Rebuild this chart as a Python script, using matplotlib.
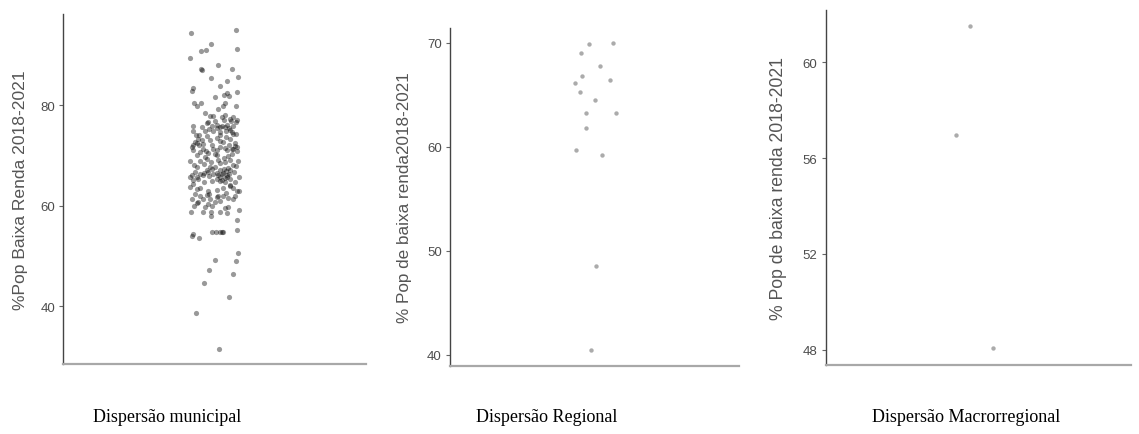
# -*- coding: utf-8 -*-
"""
Dispersao da % de populacao de baixa renda 2018-2021
(municipal, regional, macrorregional)
"""

import matplotlib
matplotlib.use('Agg')
import matplotlib.pyplot as plt
import numpy as np

#%% DATA
### municipal: valor (%) e deslocamento horizontal (jitter)
mun_valor = [
    94.3, 94.95, 89.3, 92.2, 90.8, 91.0, 91.2, 87.2, 87.0, 88.0,
    87.2, 85.4, 85.5, 83.8, 84.8, 82.7, 83.3, 82.6, 81.5, 82.3,
    81.9, 81.8, 80.5, 79.8, 79.9, 80.5, 79.8, 80.5, 79.2, 78.5,
    77.9, 77.8, 78.1, 77.6, 77.1, 75.9, 75.7, 74.8, 74.8, 75.9,
    76.1, 75.6, 75.7, 75.4, 75.9, 76.6, 74.3, 77.1, 76.9, 76.6,
    77.3, 74.1, 74.6, 74.9, 72.6, 71.6, 73.3, 72.3, 73.0, 73.4,
    72.6, 73.3, 72.5, 71.6, 73.8, 74.3, 71.0, 70.6, 70.5, 71.3,
    71.6, 71.0, 70.3, 70.8, 70.0, 69.6, 70.0, 69.4, 72.0, 72.0,
    72.0, 74.0, 71.2, 71.0, 71.3, 68.8, 68.8, 68.3, 68.6, 69.0,
    68.6, 69.0, 68.8, 67.6, 67.0, 67.6, 67.0, 67.4, 66.6, 66.0,
    66.6, 65.3, 66.3, 66.0, 66.5, 65.6, 65.6, 65.6, 65.0, 66.6,
    65.3, 65.0, 65.3, 64.7, 66.3, 64.7, 64.8, 64.7, 64.1, 67.6,
    68.0, 67.3, 66.0, 65.6, 66.3, 63.7, 63.3, 63.5, 63.0, 63.2,
    63.5, 63.5, 62.9, 62.3, 62.3, 62.0, 61.5, 61.3, 61.3, 61.3,
    61.3, 60.5, 60.0, 60.3, 59.9, 60.7, 61.0, 59.7, 59.1, 58.7,
    58.7, 58.8, 58.7, 58.5, 57.9, 57.1, 62.1, 62.0, 62.0, 62.0,
    59.7, 55.1, 54.0, 54.4, 53.5, 54.7, 54.7, 54.7, 54.7, 54.7,
    50.5, 49.0, 49.2, 47.2, 46.3, 44.7, 41.9, 38.7, 31.5,
    66.5, 66.8, 65.9, 66.2, 67.1, 65.4, 66.0, 64.9, 67.3, 66.4,
    75.5, 75.8, 76.0, 75.3, 74.6, 76.4, 75.1, 74.9, 77.6, 76.8,
    72.0, 72.4, 71.8, 72.8, 73.1, 71.4, 70.3, 69.8, 70.9, 73.6,
    68.0, 68.4, 69.2, 67.8, 63.8, 62.6, 64.3, 60.8, 61.8, 59.5,
    65.7, 71.2, 74.0, 63.0,
]
mun_jitter = [
    -0.095, 0.085, -0.097, -0.013, -0.054, -0.034, 0.088, -0.052, -0.050, 0.015,
    0.071, -0.015, 0.092, 0.021, 0.048, -0.091, -0.085, 0.088, 0.003, 0.051,
    0.039, 0.058, -0.080, -0.071, 0.085, 0.042, 0.032, -0.054, 0.015, -0.038,
    -0.005, -0.018, 0.042, 0.072, 0.088, -0.087, -0.051, -0.087, -0.038, -0.009,
    0.009, 0.022, 0.043, 0.056, 0.075, 0.084, 0.084, 0.039, 0.002, -0.024,
    0.062, -0.060, 0.022, -0.005, -0.077, -0.090, -0.064, -0.045, -0.018, 0.011,
    0.035, 0.061, 0.081, 0.091, -0.031, 0.075, -0.084, -0.058, -0.024, -0.005,
    0.022, 0.048, 0.068, 0.091, -0.071, -0.038, 0.009, 0.039, -0.011, -0.062,
    0.059, 0.022, -0.045, 0.009, 0.075, -0.097, -0.058, -0.042, -0.015, 0.015,
    0.042, 0.061, 0.095, -0.071, -0.031, 0.002, 0.022, 0.055, 0.079, -0.090,
    -0.077, -0.064, -0.005, 0.015, 0.032, 0.048, 0.099, -0.097, -0.084, -0.024,
    0.009, 0.029, 0.061, 0.081, -0.058, -0.042, -0.011, 0.042, 0.061, -0.018,
    0.075, 0.037, -0.047, 0.022, 0.057, -0.097, -0.071, -0.058, -0.024, 0.009,
    0.035, 0.075, 0.099, -0.077, -0.020, 0.032, 0.055, 0.072, -0.090, -0.045,
    -0.018, -0.071, -0.080, -0.024, -0.011, 0.002, 0.022, 0.055, 0.099, -0.093,
    -0.045, -0.014, 0.022, 0.048, -0.014, 0.088, -0.031, 0.015, -0.058, 0.081,
    -0.038, 0.088, -0.090, -0.084, -0.063, -0.010, 0.006, 0.022, 0.030, 0.032,
    0.092, 0.085, 0.001, -0.022, 0.073, -0.043, 0.058, -0.075, 0.018,
    0.010, 0.045, -0.020, 0.030, 0.060, 0.040, 0.050, 0.020, -0.010, -0.040,
    0.010, 0.030, 0.050, -0.020, 0.070, -0.030, 0.060, 0.045, 0.030, 0.065,
    -0.085, -0.070, 0.080, 0.020, -0.050, 0.040, 0.000, 0.055, -0.035, 0.045,
    -0.080, 0.020, -0.030, 0.085, 0.060, 0.045, -0.085, -0.065, 0.010, 0.040,
    -0.070, 0.070, -0.075, 0.090,
]

### regional (16 regioes)
reg_valor = [69.87, 70.0, 69.04, 67.79, 66.83, 66.47, 66.12, 65.26,
             64.55, 63.30, 63.27, 61.83, 59.74, 59.23, 48.56, 40.48]
reg_jitter = [-0.023, 0.078, -0.057, 0.024, -0.052, 0.064, -0.081, -0.062,
              0.002, -0.035, 0.089, -0.037, -0.076, 0.030, 0.005, -0.013]

### macrorregional (3 macros)
mac_valor = [61.53, 56.96, 48.06]
mac_jitter = [-0.031, -0.089, 0.058]

titulos = ['Dispersão municipal', 'Dispersão Regional', 'Dispersão Macrorregional']
ylabels = ['%Pop Baixa Renda 2018-2021', '% Pop de baixa renda2018-2021',
           '% Pop de baixa renda 2018-2021']
yticks = [[40, 60, 80], [40, 50, 60, 70], [48, 52, 56, 60]]

#%% LAYOUT
### [left, bottom, width, height] em fracao da figura
rects = [[0.0556, 0.1609, 0.2655, 0.8046],
         [0.3951, 0.1563, 0.2537, 0.7770],
         [0.7249, 0.1593, 0.2678, 0.8154]]
ylims = [(28.5, 98.1), (38.94, 71.44), (47.37, 62.18)]
title_x = [0.147, 0.480, 0.848]
label_x = [-0.117, -0.133, -0.128]
label_fs = [12.6, 12.3, 12.7]

plt.rcParams['font.family'] = ['Liberation Sans', 'DejaVu Sans']

fig = plt.figure(figsize=(11.39, 4.35), dpi=100)
fig.patch.set_facecolor('white')

dados = [(mun_jitter, mun_valor, 14, 0.40),
         (reg_jitter, reg_valor, 10, 0.33),
         (mac_jitter, mac_valor, 10, 0.33)]

for i, (jx, vy, ms, alf) in enumerate(dados):
    ax = fig.add_axes(rects[i])
    ax.scatter(np.array(jx), np.array(vy), s=ms, color='black', alpha=alf,
               linewidths=0)
    ax.set_xlim(-0.6, 0.6)
    ax.set_ylim(*ylims[i])
    ax.set_xticks([])
    ax.set_yticks(yticks[i])
    ax.tick_params(axis='y', length=3, width=0.8, color='#666666',
                   labelsize=9.5, labelcolor='#4d4d4d', pad=3)
    for s in ['top', 'right']:
        ax.spines[s].set_visible(False)
    ax.spines['left'].set_color('#444444')
    ax.spines['left'].set_linewidth(1.0)
    ax.spines['bottom'].set_color('#a8a8a8')
    ax.spines['bottom'].set_linewidth(1.6)
    ax.set_ylabel(ylabels[i], fontsize=label_fs[i], color='#555555')
    ax.yaxis.set_label_coords(label_x[i], 0.5)
    fig.text(title_x[i], 0.04, titulos[i], ha='center', va='center',
             fontsize=13, family='Liberation Serif', color='black')

fig.savefig('out.png', dpi=100, facecolor='white')
